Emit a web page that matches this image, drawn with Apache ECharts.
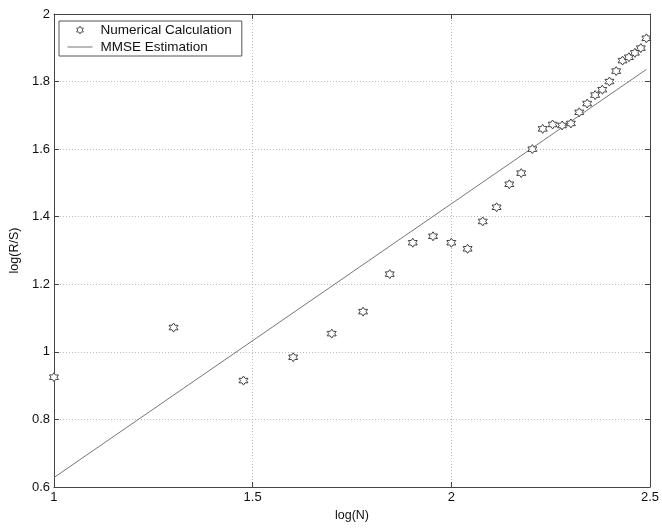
<!DOCTYPE html>
<html>
<head>
<meta charset="utf-8">
<script src="https://cdn.jsdelivr.net/npm/echarts@6/dist/echarts.min.js"></script>
<style>
html,body{margin:0;padding:0;background:#fff;}
#chart{width:662px;height:531px;}
</style>
</head>
<body>
<div id="chart"></div>
<script>
// log(N) for N = 10, 20, ..., 310
var logN = [1.000, 1.301, 1.477, 1.602, 1.699, 1.778, 1.845, 1.903, 1.954, 2.000,
            2.041, 2.079, 2.114, 2.146, 2.176, 2.204, 2.230, 2.255, 2.279, 2.301,
            2.322, 2.342, 2.362, 2.380, 2.398, 2.415, 2.431, 2.447, 2.462, 2.477, 2.491];
// log(R/S) numerical calculation
var logRS = [0.925, 1.072, 0.915, 0.984, 1.054, 1.119, 1.230, 1.323, 1.342, 1.323,
             1.305, 1.386, 1.428, 1.496, 1.529, 1.600, 1.660, 1.673, 1.670, 1.676,
             1.709, 1.735, 1.760, 1.776, 1.800, 1.831, 1.862, 1.872, 1.885, 1.899, 1.928];
// MMSE estimation line endpoints
var fitX = [1.000, 2.491];
var fitY = [0.628, 1.836];
var xTicks = [1, 1.5, 2, 2.5];
var yTicks = [0.6, 0.8, 1, 1.2, 1.4, 1.6, 1.8, 2];

var hexagram = 'path://M0,-10 L2.887,-5 L8.66,-5 L5.774,0 L8.66,5 L2.887,5 L0,10 L-2.887,5 L-8.66,5 L-5.774,0 L-8.66,-5 L-2.887,-5 Z';
var legendHex = 'path://M-32,-15 L-31.99,-15 L-31.99,-14.99 Z M0,-10 L2.887,-5 L8.66,-5 L5.774,0 L8.66,5 L2.887,5 L0,10 L-2.887,5 L-8.66,5 L-5.774,0 L-8.66,-5 L-2.887,-5 Z M31.99,15 L32,15 L32,14.99 Z';
var legendLine = 'path://M0,0 L0.01,0 L0.01,0.01 Z M0,5.5 L25,5.5 L25,6.5 L0,6.5 Z M24.99,12 L25,12 L25,11.99 Z';
var fontFam = 'Liberation Sans, Arial, sans-serif';
var axisColor = '#444';

var scatterData = logN.map(function (x, i) { return [x, logRS[i]]; });
var lineData = fitX.map(function (x, i) { return [x, fitY[i]]; });

var chart = echarts.init(document.getElementById('chart'), null, {renderer: 'canvas'});
function fmt(v) { return String(parseFloat(Number(v).toFixed(2))); }
var baseX = {
  type: 'value', min: xTicks[0], max: xTicks[xTicks.length - 1], interval: 0.5
};
var baseY = {
  type: 'value', min: yTicks[0], max: yTicks[yTicks.length - 1], interval: 0.2
};
chart.setOption({
  animation: false,
  backgroundColor: '#fff',
  textStyle: {fontFamily: fontFam},
  grid: {left: 52, right: 11, top: 14, bottom: 44, show: false},
  legend: {
    left: 59, top: 21, orient: 'vertical',
    padding: [2, 10, 2, 8],
    itemGap: 3,
    itemWidth: 25, itemHeight: 12,
    borderColor: '#555', borderWidth: 1,
    backgroundColor: '#fff',
    textStyle: {fontSize: 13.5, color: '#111', fontFamily: fontFam, padding: [0, 0, 0, 3]},
    data: [
      {name: 'Numerical Calculation', icon: legendHex, itemStyle: {color: '#fff', borderColor: '#555', borderWidth: 1}},
      {name: 'MMSE Estimation', icon: legendLine, itemStyle: {color: '#777', borderWidth: 0}}
    ]
  },
  xAxis: [
    Object.assign({}, baseX, {
      position: 'bottom',
      name: 'log(N)', nameLocation: 'middle', nameGap: 22,
      nameTextStyle: {fontSize: 12.5, color: '#111', fontFamily: fontFam},
      axisLine: {show: true, onZero: false, lineStyle: {color: axisColor, width: 1}},
      axisTick: {show: true, inside: true, length: 5, lineStyle: {color: axisColor}},
      axisLabel: {fontSize: 13, color: '#111', margin: 4, formatter: fmt, fontFamily: fontFam},
      splitLine: {show: true, lineStyle: {color: '#bbb', type: [1, 2], width: 1}}
    }),
    Object.assign({}, baseX, {
      position: 'top',
      axisLine: {show: true, onZero: false, lineStyle: {color: axisColor, width: 1}},
      axisTick: {show: true, inside: true, length: 5, lineStyle: {color: axisColor}},
      axisLabel: {show: false},
      splitLine: {show: false}
    })
  ],
  yAxis: [
    Object.assign({}, baseY, {
      position: 'left',
      name: 'log(R/S)', nameLocation: 'middle', nameGap: 28, nameRotate: 90,
      nameTextStyle: {fontSize: 12.5, color: '#111', fontFamily: fontFam},
      axisLine: {show: true, onZero: false, lineStyle: {color: axisColor, width: 1}},
      axisTick: {show: true, inside: true, length: 5, lineStyle: {color: axisColor}},
      axisLabel: {fontSize: 13, color: '#111', margin: 4, formatter: fmt, fontFamily: fontFam},
      splitLine: {show: true, lineStyle: {color: '#bbb', type: [1, 2], width: 1}}
    }),
    Object.assign({}, baseY, {
      position: 'right',
      axisLine: {show: true, onZero: false, lineStyle: {color: axisColor, width: 1}},
      axisTick: {show: true, inside: true, length: 5, lineStyle: {color: axisColor}},
      axisLabel: {show: false},
      splitLine: {show: false}
    })
  ],
  series: [
    {
      name: 'Numerical Calculation', type: 'scatter',
      xAxisIndex: 0, yAxisIndex: 0,
      symbol: hexagram, symbolSize: 9,
      itemStyle: {color: '#fff', borderColor: '#444', borderWidth: 1, opacity: 1},
      data: scatterData, z: 3
    },
    {
      name: 'MMSE Estimation', type: 'line',
      xAxisIndex: 0, yAxisIndex: 0,
      showSymbol: false, symbol: 'none',
      lineStyle: {color: '#777', width: 1},
      itemStyle: {color: '#777'},
      data: lineData, z: 2
    }
  ]
});
</script>
</body>
</html>
